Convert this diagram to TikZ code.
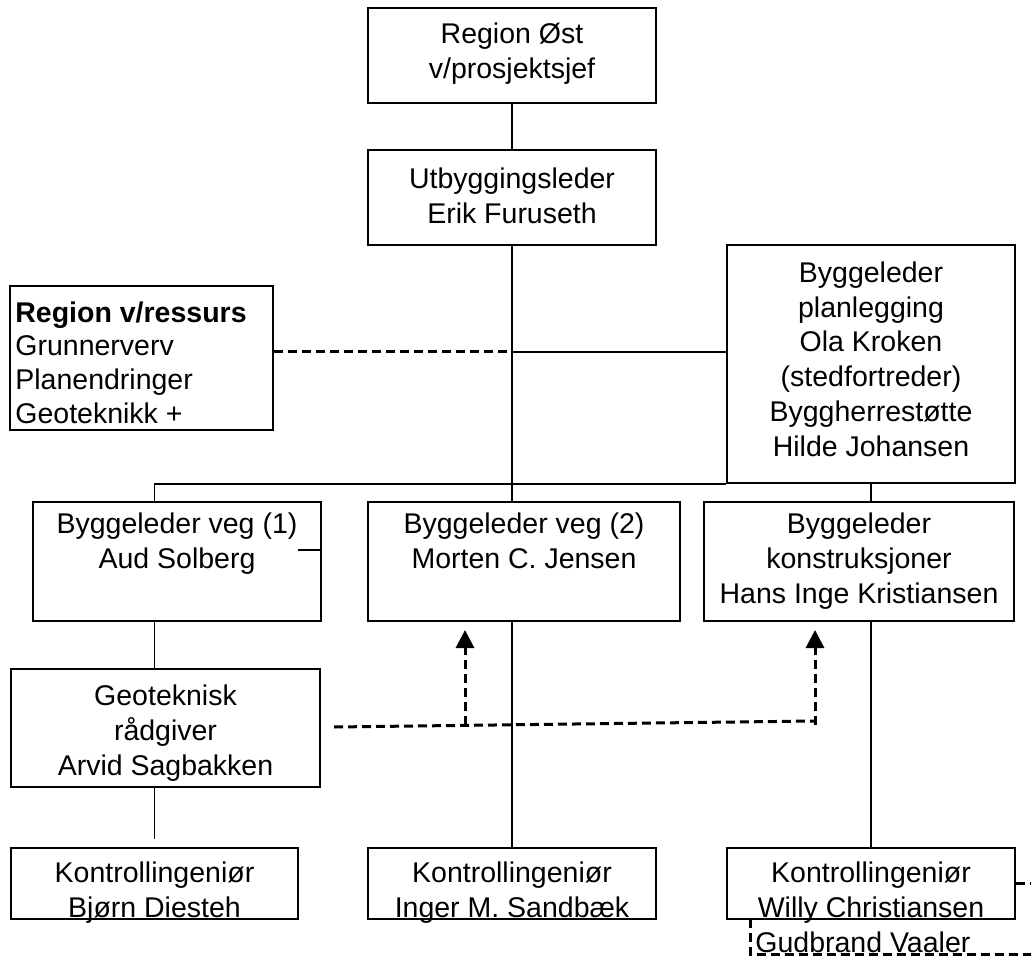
\documentclass[tikz,border=0pt]{standalone}
\usepackage{fontspec}
\setmainfont{Liberation Sans}
\usetikzlibrary{arrows.meta}

\begin{document}
\begin{tikzpicture}[x=.5pt,y=-.5pt]
        %%stiler
        \tikzset{box/.style = {draw, line width=1pt, inner sep=0pt}}
        \tikzset{txt/.style = {inner sep=0pt, anchor=north, align=center, font=\fontsize{14.25pt}{17.5pt}\selectfont}}
        \tikzset{link/.style = {line width=.8pt}}
        \tikzset{dline/.style = {line width=1.5pt, dash pattern=on 4.5pt off 2.5pt}}
        \tikzset{uppil/.style = {dline, -{Triangle[length=9pt,width=9pt]}, shorten >=4pt}}

        \useasboundingbox (0,0) rectangle (1031,956);

        %%bokser
        \node[box, minimum width=144pt, minimum height=47.5pt] (ost) at (512,55.5) {};
        \node[box, minimum width=144pt, minimum height=47.5pt] (utb) at (512,197.5) {};
        \node[box, minimum width=131.5pt, minimum height=72pt] (ressurs) at (141.5,358) {};
        \node[box, minimum width=144pt, minimum height=119pt] (plan) at (871,364) {};
        \node[box, minimum width=144pt, minimum height=59.5pt] (veg1) at (177,561.5) {};
        \node[box, minimum width=156pt, minimum height=59.5pt] (veg2) at (524,561.5) {};
        \node[box, minimum width=155pt, minimum height=59.5pt] (konstr) at (859,561.5) {};
        \node[box, minimum width=154.5pt, minimum height=59pt] (geo) at (165.5,728) {};
        \node[box, minimum width=143.5pt, minimum height=35.5pt] (kontr1) at (154.5,883.5) {};
        \node[box, minimum width=144pt, minimum height=35.5pt] (kontr2) at (512,883.5) {};
        \node[box, minimum width=144pt, minimum height=35.5pt] (kontr3) at (871,883.5) {};

        %%tekst
        \node[txt] (ost-t) at (512,22) {Region Øst\\v/prosjektsjef};
        \node[txt] (utb-t) at (512,167) {Utbyggingsleder\\Erik Furuseth};
        \node[txt, anchor=north west, align=left, font=\fontsize{14.25pt}{16.85pt}\selectfont] (ressurs-t) at (15,301)
            {\textbf{Region v/ressurs}\\Grunnerverv\\Planendringer\\Geoteknikk +};
        \node[txt, font=\fontsize{14.25pt}{17.35pt}\selectfont] (plan-t) at (871,261.5)
            {Byggeleder\\planlegging\\Ola Kroken\\(stedfortreder)\\Byggherrestøtte\\Hilde Johansen};
        \node[txt] (veg1-t) at (177,512.5) {Byggeleder veg (1)\\Aud Solberg};
        \node[txt] (veg2-t) at (524,512.5) {Byggeleder veg (2)\\Morten C. Jensen};
        \node[txt] (konstr-t) at (859,512.5) {Byggeleder\\konstruksjoner\\Hans Inge Kristiansen};
        \node[txt] (geo-t) at (165.5,684.5) {Geoteknisk\\rådgiver\\Arvid Sagbakken};
        \node[txt] (kontr1-t) at (154.5,861.5) {Kontrollingeniør\\Bjørn Diesteh};
        \node[txt] (kontr2-t) at (512,861.5) {Kontrollingeniør\\Inger M. Sandbæk};
        \node[txt] (kontr3-t) at (871,861.5) {Kontrollingeniør\\Willy Christiansen};
        \node[txt, anchor=north west, align=left] (gud-t) at (755,931.5) {Gudbrand Vaaler};

        %%linjer
        \draw[link] (ost) -- (utb);
        \draw[link] (utb.south) -- (utb.south |- veg2.north);%hovedlinje
        \coordinate (kryss) at (512,352);
        \draw[dline] (ressurs.east |- kryss) -- (kryss);
        \draw[link] (kryss) -- (plan.west |- kryss);
        \draw[link] (kontr1.north |- veg1.north) |- (plan.south west);
        \draw[link] (plan.south) -- (plan.south |- konstr.north);
        \draw[link] (veg1.east |- 0,550) -- ++(-24,0);
        \draw[link] (kontr1.north |- veg1.south) -- (kontr1.north |- geo.north);
        \draw[link] (kontr1.north |- geo.south) -- ++(0,51);
        \draw[link] (utb.south |- veg2.south) -- (kontr2.north);
        \draw[link] (kontr3.north |- konstr.south) -- (kontr3.north);

        %%stiplet
        \coordinate (rad) at (334,727);
        \coordinate (pil1) at (465,725.4);
        \coordinate (pil2) at (815,721);
        \coordinate (pil2b) at (815,725);
        \draw[dline] (rad) -- (pil2);
        \draw[uppil] (pil1) -- (pil1 |- veg2.south);
        \draw[uppil] (pil2b) -- (pil2b |- konstr.south);
        \draw[dline] (kontr3.east) -- ++(16,0);
        \coordinate (gud) at (750,919);
        \draw[dline] (gud) -- (750,954.5) -- (1031,954.5);
\end{tikzpicture}
\end{document}
